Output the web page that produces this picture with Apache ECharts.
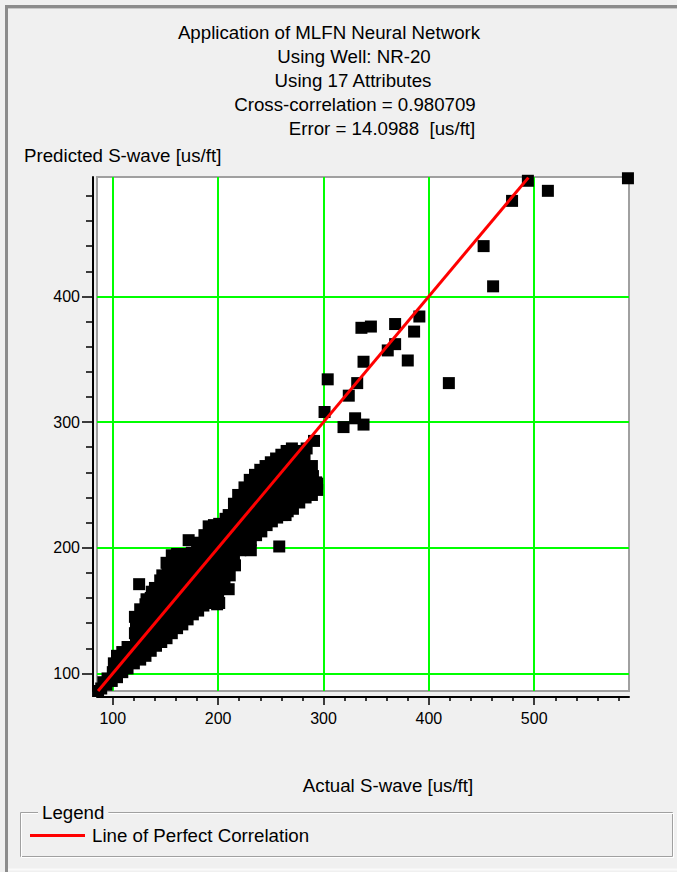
<!DOCTYPE html>
<html>
<head>
<meta charset="utf-8">
<title>MLFN S-wave prediction</title>
<script src="https://cdn.jsdelivr.net/npm/echarts@6/dist/echarts.min.js"></script>
<style>
  html, body { margin: 0; padding: 0; background: #f0f0f0; }
  #chart { width: 677px; height: 872px; }
</style>
</head>
<body>
<div id="chart"></div>
<script>
// Header text of the cross-plot
const titleLines = [
  'Application of MLFN Neural Network',
  'Using Well: NR-20',
  'Using 17 Attributes',
  'Cross-correlation = 0.980709',
  'Error = 14.0988  [us/ft]'
];
const yAxisTitle = 'Predicted S-wave [us/ft]';
const xAxisTitle = 'Actual S-wave [us/ft]';
const lineName = 'Line of Perfect Correlation';

// Axis extents and tick marks
const xRange = [85, 590];
const yRange = [86, 495];
const xTicks = [100, 200, 300, 400, 500];
const yTicks = [100, 200, 300, 400];
const xMinorTicks = [120, 140, 160, 180, 220, 240, 260, 280, 320, 340, 360, 380,
                     420, 440, 460, 480, 520, 540, 560, 580];
const yMinorTicks = [120, 140, 160, 180, 220, 240, 260, 280, 320, 340, 360, 380,
                     420, 440, 460, 480];

// [actual, predicted] samples, dense trend band
const bandSamples = [
  [86,86],[89,88],[91,93],[94,91],[95,96],[99,94],[100,101],[101,108],[104,97],[105,103],
  [106,109],[104,114],[109,101],[110,107],[111,113],[109,117],[114,104],[115,110],[116,116],[114,121],
  [120,108],[121,114],[120,120],[122,126],[121,132],[122,139],[121,145],
  [126,111],[125,117],[127,124],[126,131],[125,138],[127,145],[126,151],
  [131,114],[130,120],[132,127],[131,134],[130,141],[132,148],[131,155],[132,159],
  [136,118],[137,125],[135,132],[136,139],[137,146],[135,153],[136,160],[137,165],
  [141,122],[140,129],[142,136],[141,143],[140,150],[142,157],[141,163],[140,168],
  [146,125],[145,132],[147,139],[146,146],[145,153],[147,160],[146,167],[145,174],[147,178],
  [151,128],[150,135],[152,142],[151,149],[150,156],[152,163],[151,170],[150,177],[152,184],[151,188],
  [156,132],[155,139],[157,146],[156,153],[155,160],[157,167],[156,174],[155,181],[157,188],[156,194],
  [161,136],[160,143],[162,150],[161,157],[160,164],[162,171],[161,178],[160,185],[162,191],[161,195],
  [166,139],[165,146],[167,153],[166,160],[165,167],[167,174],[166,181],[165,188],[167,194],
  [171,143],[170,150],[172,157],[171,164],[170,171],[172,178],[171,185],[170,191],[172,195],
  [176,147],[175,154],[177,161],[176,168],[175,175],[177,182],[176,189],[175,196],
  [181,150],[180,157],[182,164],[181,171],[180,178],[182,185],[181,192],[180,199],[182,204],
  [186,154],[185,161],[187,168],[186,175],[185,182],[187,189],[186,196],[185,203],[187,210],
  [191,157],[190,164],[192,171],[191,178],[190,185],[192,192],[191,199],[190,206],[192,213],[191,217],
  [196,156],[195,162],[197,169],[196,176],[195,183],[197,190],[196,197],[195,204],[197,211],[196,218],
  [201,156],[200,163],[202,170],[201,177],[200,184],[202,191],[201,198],[200,205],[202,212],[201,219],
  [206,170],[205,177],[207,184],[206,191],[205,198],[207,205],[206,212],[205,218],[207,223],
  [211,178],[210,185],[212,192],[211,199],[210,206],[212,213],[211,220],[210,226],
  [216,186],[215,193],[217,200],[216,207],[215,214],[217,221],[216,228],[215,235],
  [221,198],[220,204],[222,211],[221,218],[220,225],[222,232],[221,239],
  [226,202],[225,209],[227,216],[226,223],[225,230],[227,237],[226,244],[225,248],
  [231,206],[230,213],[232,220],[231,227],[230,234],[232,241],[231,248],[230,254],
  [236,210],[235,217],[237,224],[236,231],[235,238],[237,245],[236,252],[235,258],
  [241,213],[240,220],[242,227],[241,234],[240,241],[242,248],[241,255],[240,262],
  [246,218],[245,225],[247,232],[246,239],[245,246],[247,253],[246,260],[245,265],
  [251,221],[250,228],[252,235],[251,242],[250,249],[252,256],[251,263],[250,268],
  [256,224],[255,231],[257,238],[256,245],[255,252],[257,259],[256,266],[255,271],
  [261,226],[260,233],[262,240],[261,247],[260,254],[262,261],[261,268],[260,274],
  [266,229],[265,236],[267,243],[266,250],[265,257],[267,264],[266,271],[265,277],
  [271,231],[270,238],[272,245],[271,252],[270,259],[272,266],[271,273],[270,279],
  [277,236],[276,243],[278,250],[277,257],[276,264],[278,271],[277,277],
  [283,240],[282,247],[284,254],[283,262],[282,270],
  [289,242],[288,249],[290,257],[289,265],
  [294,246],[293,252]
];

// [actual, predicted] samples away from the trend band
const scatteredSamples = [
  [125,171],[172,206],[199,155],[210,167],[219,242],[231,198],[258,201],[264,226],
  [291,247],[294,251],[284,279],[272,272],[291,285],[301,308],[319,296],[330,303],
  [338,298],[304,334],[324,321],[332,331],[338,348],[336,375],[345,376],[361,357],
  [368,362],[368,378],[380,349],[386,372],[391,384],[419,331],[452,440],[461,408],
  [479,476],[494,492],[513,484],[589,494]
];

// End points of the 1:1 reference line
const perfectLine = [[86, 86], [494.5, 494.5]];

const FONT = '"Liberation Sans", Arial, sans-serif';
const TEXT_FONT = '18.7px ' + FONT;
const titleCenters = [329, 354, 353, 355, 382];
const titleRows = [32, 56, 80, 104, 128];

const chart = echarts.init(document.getElementById('chart'), null, { renderer: 'svg' });

const graphics = [
  // window frame: left and top edges, light bottom edge
  { type: 'line', shape: { x1: 6.5, y1: 5, x2: 6.5, y2: 872 }, silent: true,
    style: { stroke: '#8c8c8c', lineWidth: 3 } },
  { type: 'line', shape: { x1: 5, y1: 6.5, x2: 677, y2: 6.5 }, silent: true,
    style: { stroke: '#8c8c8c', lineWidth: 3 } },
  { type: 'line', shape: { x1: 8, y1: 8.5, x2: 677, y2: 8.5 }, silent: true,
    style: { stroke: '#c8c8c8', lineWidth: 1 } },
  { type: 'line', shape: { x1: 8, y1: 869.5, x2: 677, y2: 869.5 }, silent: true,
    style: { stroke: '#fafafa', lineWidth: 2 } },
  // legend group box (etched)
  { type: 'rect', shape: { x: 20.5, y: 812.5, width: 652, height: 44 }, silent: true,
    style: { fill: 'none', stroke: '#a0a0a0', lineWidth: 1 } },
  { type: 'rect', shape: { x: 21.5, y: 813.5, width: 652, height: 44 }, silent: true,
    style: { fill: 'none', stroke: '#ffffff', lineWidth: 1 } },
  { type: 'text', x: 38, y: 812, silent: true,
    style: { text: 'Legend', font: TEXT_FONT, fill: '#000', verticalAlign: 'middle',
             backgroundColor: '#f0f0f0', padding: [0, 4] } },
  // axis captions
  { type: 'text', x: 24, y: 155, silent: true,
    style: { text: yAxisTitle, font: TEXT_FONT, fill: '#000', verticalAlign: 'middle' } },
  { type: 'text', x: 388, y: 785, silent: true,
    style: { text: xAxisTitle, font: TEXT_FONT, fill: '#000',
             align: 'center', verticalAlign: 'middle' } }
];
titleLines.forEach((t, i) => {
  graphics.push({ type: 'text', x: titleCenters[i], y: titleRows[i], silent: true,
    style: { text: t, font: TEXT_FONT, fill: '#000', align: 'center', verticalAlign: 'middle' } });
});

const gridLine = { show: true, lineStyle: { color: '#00ff00', width: 2 } };
const tickStyle = { color: '#000', width: 1.5 };
const labelStyle = { color: '#000', fontSize: 16, fontFamily: FONT };

chart.setOption({
  animation: false,
  backgroundColor: '#f0f0f0',
  grid: {
    left: 97, top: 177, width: 532, height: 514,
    show: true, backgroundColor: '#ffffff', borderColor: '#a0a0a0', borderWidth: 2
  },
  xAxis: [
    { type: 'value', min: xRange[0], max: xRange[1], position: 'bottom', offset: 6,
      axisLine: { show: true, onZero: false, lineStyle: { color: '#000', width: 2 } },
      axisTick: { show: true, customValues: xTicks, length: 8, lineStyle: tickStyle },
      axisLabel: { show: true, customValues: xTicks, margin: 13, ...labelStyle },
      splitLine: gridLine },
    { type: 'value', min: xRange[0], max: xRange[1], position: 'bottom', offset: 6,
      axisLine: { show: false, onZero: false },
      axisTick: { show: true, customValues: xMinorTicks, length: 4, lineStyle: tickStyle },
      axisLabel: { show: false }, splitLine: { show: false } }
  ],
  yAxis: [
    { type: 'value', min: yRange[0], max: yRange[1], position: 'left', offset: 4,
      axisLine: { show: true, onZero: false, lineStyle: { color: '#000', width: 2 } },
      axisTick: { show: true, customValues: yTicks, length: 11, lineStyle: tickStyle },
      axisLabel: { show: true, customValues: yTicks, margin: 13, ...labelStyle },
      splitLine: gridLine },
    { type: 'value', min: yRange[0], max: yRange[1], position: 'left', offset: 4,
      axisLine: { show: false, onZero: false },
      axisTick: { show: true, customValues: yMinorTicks, length: 7, lineStyle: tickStyle },
      axisLabel: { show: false }, splitLine: { show: false } }
  ],
  legend: {
    data: [{ name: lineName, icon: 'rect' }], left: 30, top: 826,
    itemWidth: 55, itemHeight: 3, itemGap: 8, padding: 0,
    selectedMode: false,
    textStyle: { color: '#000', fontSize: 18.7, fontFamily: FONT, padding: [0, 0, 0, 2] }
  },
  graphic: graphics,
  series: [
    { type: 'scatter', name: 'Samples', xAxisIndex: 0, yAxisIndex: 0,
      data: bandSamples.concat(scatteredSamples),
      symbol: 'rect', symbolSize: 12, clip: true, z: 2,
      itemStyle: { color: '#000', opacity: 1 }, emphasis: { disabled: true } },
    { type: 'line', name: lineName, xAxisIndex: 0, yAxisIndex: 0,
      data: perfectLine, symbol: 'none', z: 3,
      lineStyle: { color: '#ff0000', width: 3 }, itemStyle: { color: '#ff0000' } }
  ]
});
</script>
</body>
</html>
